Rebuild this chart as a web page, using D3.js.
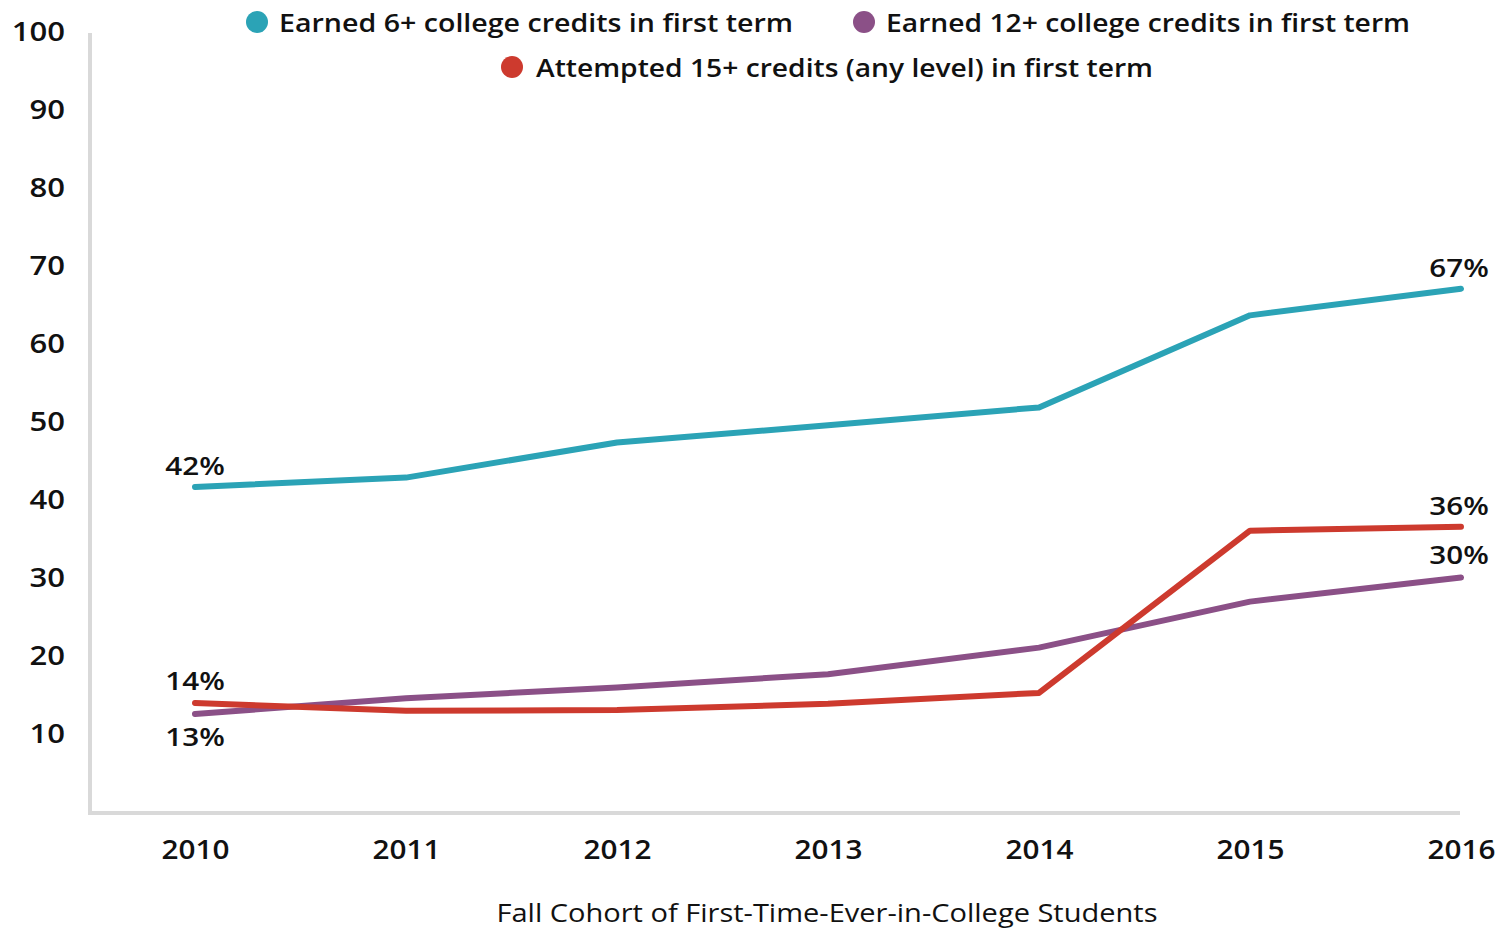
<!DOCTYPE html>
<html>
<head>
<meta charset="utf-8">
<script src="https://cdn.jsdelivr.net/npm/d3@7"></script>
<style>
  html, body { margin: 0; padding: 0; background: #fff; }
  svg { display: block; }
  text { font-family: "Open Sans", Roboto, "Liberation Sans", sans-serif; fill: #111; }
</style>
</head>
<body>
<svg id="chart" width="1501" height="931"></svg>
<script>
const years = ["2010", "2011", "2012", "2013", "2014", "2015", "2016"];
const earned6 = [41.8, 43.0, 47.5, 49.7, 52.0, 63.8, 67.2];
const earned12 = [12.7, 14.7, 16.1, 17.8, 21.2, 27.1, 30.2];
const attempted15 = [14.1, 13.1, 13.2, 14.0, 15.4, 36.2, 36.7];
const yTicks = [10, 20, 30, 40, 50, 60, 70, 80, 90, 100];
const seriesNames = [
  "Earned 6+ college credits in first term",
  "Earned 12+ college credits in first term",
  "Attempted 15+ credits (any level) in first term"
];
const colors = ["#2ba3b6", "#8b5087", "#cd3a2e"];
const startLabels = ["42%", "13%", "14%"];
const endLabels = ["67%", "30%", "36%"];
const xTitle = "Fall Cohort of First-Time-Ever-in-College Students";

const series = [earned6, earned12, attempted15];
const FONT = "'Open Sans', Roboto, 'Liberation Sans', sans-serif";

function stretchTo(node, target) {
  d3.select(node).attr("textLength", target.toFixed(1)).attr("lengthAdjust", "spacingAndGlyphs");
}
function stretchBy(node, factor) {
  const len = node.getComputedTextLength();
  stretchTo(node, len * factor);
}

const svg = d3.select("#chart");
const x = d3.scalePoint().domain(years).range([195, 1461]);
const y = d3.scaleLinear().domain([0, 100]).range([813, 33]);

// axes lines
svg.append("line").attr("x1", 90).attr("x2", 90).attr("y1", y(100)).attr("y2", y(0) + 2)
  .attr("stroke", "#d9d9d9").attr("stroke-width", 4);
svg.append("line").attr("x1", 88).attr("x2", 1460).attr("y1", y(0)).attr("y2", y(0))
  .attr("stroke", "#d9d9d9").attr("stroke-width", 4);

// y axis ticks via d3 axis
const yAxis = svg.append("g").attr("transform", "translate(65,-2)")
  .call(d3.axisLeft(y).tickValues(yTicks).tickSize(0).tickPadding(0));
yAxis.select(".domain").remove();
yAxis.selectAll("text")
  .style("font-family", FONT)
  .style("font-size", "27px").style("font-weight", 600).attr("fill", "#111")
  .attr("dy", "0.36em")
  .each(function() { stretchBy(this, 1.15); });

// x axis
const xAxis = svg.append("g").attr("transform", "translate(0,849)")
  .call(d3.axisBottom(x).tickSize(0).tickPadding(0));
xAxis.select(".domain").remove();
xAxis.selectAll("text")
  .style("font-family", FONT)
  .style("font-size", "27px").style("font-weight", 600).attr("fill", "#111")
  .attr("dy", "0.36em")
  .each(function() { stretchBy(this, 1.1); });

// x title
svg.append("text").attr("x", 827).attr("y", 922).attr("text-anchor", "middle")
  .style("font-size", "26px").style("font-weight", 400)
  .text(xTitle)
  .each(function() { stretchTo(this, 661); });

// lines
const line = d3.line().x((d, i) => x(years[i])).y(d => y(d));
series.forEach((s, k) => {
  svg.append("path").datum(s).attr("d", line)
    .attr("fill", "none").attr("stroke", colors[k]).attr("stroke-width", 6)
    .attr("stroke-linecap", "round").attr("stroke-linejoin", "round");
});

// data labels
const lblStyle = sel => sel.style("font-size", "26px").style("font-weight", 600).attr("text-anchor", "middle");
const startOffsets = [-12, 32, -13];
const endOffsets = [-12, -13, -12];
series.forEach((s, k) => {
  svg.append("text").attr("x", x(years[0])).attr("y", y(s[0]) + startOffsets[k])
    .call(lblStyle).text(startLabels[k]).each(function() { stretchBy(this, 1.14); });
  svg.append("text").attr("x", x(years[years.length - 1]) - 2).attr("y", y(s[s.length - 1]) + endOffsets[k])
    .call(lblStyle).text(endLabels[k]).each(function() { stretchBy(this, 1.14); });
});

// legend
const legendItems = [
  { cx: 257, cy: 22, tx: 279, w: 514, name: seriesNames[0], color: colors[0] },
  { cx: 864, cy: 22, tx: 886, w: 524, name: seriesNames[1], color: colors[1] },
  { cx: 512, cy: 67, tx: 536, w: 617, name: seriesNames[2], color: colors[2] }
];
legendItems.forEach(it => {
  svg.append("circle").attr("cx", it.cx).attr("cy", it.cy).attr("r", 11).attr("fill", it.color);
  svg.append("text").attr("x", it.tx).attr("y", it.cy + 10)
    .style("font-size", "26px").style("font-weight", 600)
    .text(it.name)
    .each(function() { stretchTo(this, it.w); });
});
</script>
</body>
</html>
